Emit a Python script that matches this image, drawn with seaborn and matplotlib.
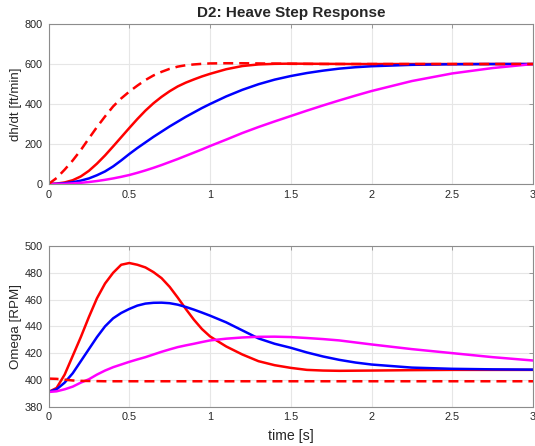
import matplotlib
matplotlib.use("Agg")
import matplotlib.pyplot as plt
import pandas as pd
import seaborn as sns

# Время, с (общая сетка для всех кривых)
t = [0, 0.05, 0.1, 0.15, 0.2, 0.25, 0.3, 0.35, 0.4, 0.45, 0.5, 0.55, 0.6, 0.65, 0.7,
     0.75, 0.8, 0.85, 0.9, 0.95, 1.0, 1.1, 1.2, 1.3, 1.4, 1.5, 1.6, 1.7, 1.8, 1.9, 2.0,
     2.25, 2.5, 2.75, 3.0]

# Верхний график: dh/dt [ft/min]
heave_ref = [0, 30, 72, 118, 170, 228, 285, 338, 388, 428, 462, 492, 520, 543, 561,
             576, 587, 594, 598, 601, 603, 604, 604, 603, 602, 601, 600.5, 600, 600, 600, 600,
             600, 600, 600, 600]
heave_red = [0, 2, 8, 19, 38, 66, 102, 143, 188, 234, 280, 325, 367, 404, 436,
             464, 488, 507, 523, 538, 551, 574, 590, 598, 601, 602, 601.5, 601, 600.5, 600, 600,
             600, 600, 600, 600]
heave_blue = [0, 1, 4, 9, 17, 28, 44, 63, 88, 118, 150, 180, 208, 236, 262,
              288, 312, 336, 358, 380, 400, 438, 471, 499, 522, 540, 555, 567, 577, 584, 589,
              596, 599, 600, 600]
heave_magenta = [0, 0, 1, 3, 6, 10, 15, 21, 28, 36, 45, 56, 68, 81, 95,
                 110, 125, 141, 157, 173, 190, 222, 255, 285, 313, 340, 367, 393, 418, 442, 465,
                 515, 553, 580, 600]

# Нижний график: Omega [RPM]
omega_ref = [401, 400.8, 400.2, 399.6, 399.3, 399.2, 399.1, 399, 399, 399, 399, 399, 399, 399, 399,
             399, 399, 399, 399, 399, 399, 399, 399, 399, 399, 399, 399, 399, 399, 399, 399,
             399, 399, 399, 399]
omega_red = [391, 394, 404, 418, 432, 447, 461, 472, 480, 486, 487.3, 486, 484, 480.5, 476,
             469.5, 461.5, 453, 445, 438, 432.5, 425, 419, 414, 411, 409, 407.5, 407, 406.8, 406.9, 407,
             407.3, 407.5, 407.5, 407.5]
omega_blue = [391, 393, 398, 405, 414, 423, 432, 440, 446, 450, 453, 455.5, 457, 457.6, 457.7,
              457.3, 456.2, 454.5, 452.5, 450.3, 448, 443, 437, 431, 427, 424, 420.5, 417.5, 415, 413, 411.5,
              409.2, 408.3, 407.9, 407.7]
omega_magenta = [391, 391.5, 393, 395, 398, 400.5, 404, 407, 409.5, 411.5, 413.5, 415.3, 417, 419, 421,
                 422.8, 424.5, 425.8, 427, 428.3, 429.5, 430.8, 431.7, 432.2, 432.3, 432, 431.3, 430.5, 429.5, 428, 426.5,
                 423, 420, 417, 414.5]

sns.set_style("whitegrid")
plt.rcParams["font.family"] = ["Liberation Sans", "DejaVu Sans"]

LW = 1.8
DASH = (4.0, 2.4)


def style_axes(ax, ylim, yticks):
    ax.set_xlim(0, 3)
    ax.set_ylim(*ylim)
    ax.set_xticks([0, 0.5, 1, 1.5, 2, 2.5, 3])
    ax.set_xticklabels(["0", "0.5", "1", "1.5", "2", "2.5", "3"])
    ax.set_yticks(yticks)
    ax.grid(True, color="#e6e6e6", linewidth=0.8)
    for s in ax.spines.values():
        s.set_color("#8c8c8c")
        s.set_linewidth(0.8)
    ax.tick_params(direction="in", length=3, width=0.6, color="#8c8c8c",
                   labelsize=7.8, labelcolor="#262626", top=True, right=True,
                   labeltop=False, labelright=False, pad=4)


def draw(ax, series):
    # порядок как в MATLAB: последняя линия сверху
    for y, color, dashed in series:
        df = pd.DataFrame({"t": t, "y": y})
        sns.lineplot(data=df, x="t", y="y", ax=ax, color=color, linewidth=LW, legend=False)
        if dashed:
            ax.lines[-1].set_dashes(DASH)
    ax.set_xlabel("")
    ax.set_ylabel("")


fig = plt.figure(figsize=(5.35, 4.46), dpi=100)
ax1 = fig.add_axes([0.0907, 0.5874, 0.9056, 0.3587])
ax2 = fig.add_axes([0.0907, 0.0881, 0.9056, 0.3603])

draw(ax1, [(heave_red, "#ff0000", False), (heave_blue, "#0000ff", False),
           (heave_magenta, "#ff00ff", False), (heave_ref, "#ff0000", True)])
style_axes(ax1, (0, 800), [0, 200, 400, 600, 800])
ax1.set_ylabel("dh/dt [ft/min]", fontsize=9.6, color="#262626", labelpad=2)
ax1.set_title("D2: Heave Step Response", fontsize=11, fontweight="bold", pad=5)

draw(ax2, [(omega_red, "#ff0000", False), (omega_blue, "#0000ff", False),
           (omega_magenta, "#ff00ff", False), (omega_ref, "#ff0000", True)])
style_axes(ax2, (380, 500), [380, 400, 420, 440, 460, 480, 500])
ax2.set_ylabel("Omega [RPM]", fontsize=9.6, color="#262626", labelpad=2)
ax2.set_xlabel("time [s]", fontsize=10.2, color="#262626", labelpad=4.5)

fig.savefig("out.png", dpi=100)
